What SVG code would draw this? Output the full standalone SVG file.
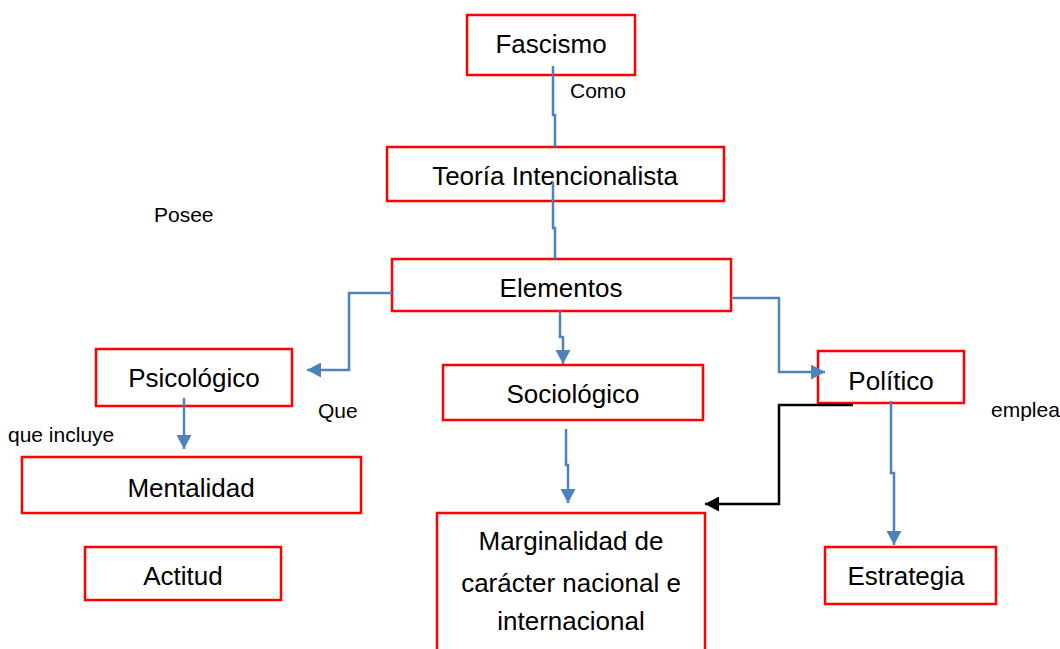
<svg xmlns="http://www.w3.org/2000/svg" width="1060" height="649" viewBox="0 0 1060 649">
<style>
.box{fill:#ffffff;stroke:#ff0000;stroke-width:2.5}
.t{font-family:"Liberation Sans",Arial,sans-serif;font-size:26px;fill:#000;text-anchor:middle}
.lbl{font-family:"Liberation Sans",Arial,sans-serif;font-size:21px;fill:#000}
.c{fill:none;stroke:#4f81bd;stroke-width:2.5}
.k{fill:none;stroke:#000;stroke-width:2.5}
</style>
<defs>
<marker id="ab" markerUnits="userSpaceOnUse" markerWidth="15" markerHeight="15" refX="14" refY="7.5" orient="auto" viewBox="0 0 15 15">
<path d="M0,0 L14,7.5 L0,15 z" fill="#4f81bd"/>
</marker>
<marker id="ak" markerUnits="userSpaceOnUse" markerWidth="15" markerHeight="15" refX="14" refY="7.5" orient="auto" viewBox="0 0 15 15">
<path d="M0,0 L14,7.5 L0,15 z" fill="#000"/>
</marker>
</defs>
<rect width="1060" height="649" fill="#fff"/>
<g id="n-fascismo"><rect class="box" x="467" y="15" width="168" height="60"/><text class="t" x="551" y="53">Fascismo</text></g>
<g id="n-teoria"><rect class="box" x="387" y="147" width="337" height="54"/><text class="t" x="555" y="185">Teoría Intencionalista</text></g>
<g id="n-elementos"><rect class="box" x="392" y="259" width="339" height="52"/><text class="t" x="561" y="297">Elementos</text></g>
<g id="n-psicologico"><rect class="box" x="96" y="349" width="196" height="57"/><text class="t" x="194" y="387">Psicológico</text></g>
<g id="n-sociologico"><rect class="box" x="443" y="365" width="260" height="55"/><text class="t" x="573" y="403">Sociológico</text></g>
<g id="n-politico"><rect class="box" x="818" y="351" width="146" height="52"/><text class="t" x="891" y="390">Político</text></g>
<g id="n-mentalidad"><rect class="box" x="22" y="457" width="339" height="56"/><text class="t" x="191" y="497">Mentalidad</text></g>
<g id="n-actitud"><rect class="box" x="85" y="547" width="196" height="53"/><text class="t" x="183" y="585">Actitud</text></g>
<g id="n-estrategia"><rect class="box" x="825" y="547" width="171" height="57"/><text class="t" x="906" y="585">Estrategia</text></g>
<g id="n-marginalidad"><rect class="box" x="437" y="513" width="268" height="145"/><text class="t" x="571" y="550">Marginalidad de</text><text class="t" x="571" y="592">carácter nacional e</text><text class="t" x="571" y="630">internacional</text></g>
<g id="labels">
<text class="lbl" x="570" y="98">Como</text>
<text class="lbl" x="154" y="222">Posee</text>
<text class="lbl" x="318" y="418">Que</text>
<text class="lbl" x="8" y="442">que incluye</text>
<text class="lbl" x="991" y="417">emplea</text>
</g>
<g id="connectors">
<path class="c" d="M553,66 V115 H555 V147"/>
<path class="c" d="M553,182 V228 H555 V259"/>
<path class="c" d="M392,293 H349 V370 H307" marker-end="url(#ab)"/>
<path class="c" d="M560,311 V337 H563 V364" marker-end="url(#ab)"/>
<path class="c" d="M731,298 H779 V372 H825" marker-end="url(#ab)"/>
<path class="c" d="M184,398 V449" marker-end="url(#ab)"/>
<path class="c" d="M566,429 V465 H568 V503" marker-end="url(#ab)"/>
<path class="c" d="M891,401 V473 H894 V545" marker-end="url(#ab)"/>
<path class="k" d="M853,405 H779 V504 H705" marker-end="url(#ak)"/>
</g>
</svg>
